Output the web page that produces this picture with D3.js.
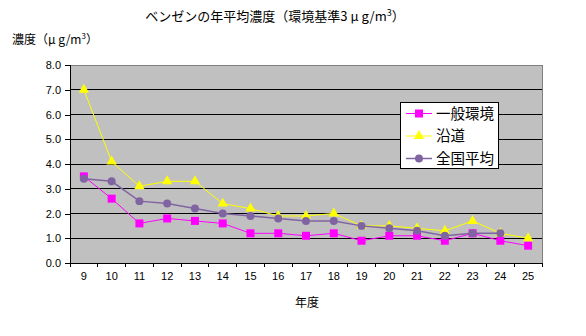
<!DOCTYPE html>
<html><head><meta charset="utf-8">
<script src="https://cdn.jsdelivr.net/npm/d3@7"></script>
<style>body{margin:0;background:#fff}svg{display:block}</style>
</head><body>
<script>
const years = ["9","10","11","12","13","14","15","16","17","18","19","20","21","22","23","24","25"];
const general = [3.5,2.6,1.6,1.8,1.7,1.6,1.2,1.2,1.1,1.2,0.9,1.1,1.1,0.9,1.2,0.9,0.7];
const roadside = [7.0,4.1,3.1,3.3,3.3,2.4,2.2,1.9,1.9,2.0,1.5,1.5,1.4,1.3,1.7,1.2,1.0];
const national = [3.4,3.3,2.5,2.4,2.2,2.0,1.9,1.8,1.7,1.7,1.5,1.4,1.3,1.1,1.2,1.2,null];
const yTicks = [0,1,2,3,4,5,6,7,8];
const seriesNames = ["一般環境","沿道","全国平均"];

const W=586,H=336;
const m={l:70,r:44,t:65,b:73};
const svg=d3.select("body").append("svg").attr("width",W).attr("height",H);
const x=d3.scaleBand().domain(years).range([m.l,W-m.r]);
const y=d3.scaleLinear().domain([0,8]).range([H-m.b,m.t]);
const fontJ='"Noto Sans CJK JP", sans-serif';
const fontN='"Liberation Sans", Arial, sans-serif';

svg.append("rect").attr("x",m.l).attr("y",m.t).attr("width",W-m.r-m.l).attr("height",H-m.b-m.t).attr("fill","#C0C0C0");
svg.append("g").selectAll("line").data(yTicks.filter(d=>d>0&&d<8)).join("line")
 .attr("x1",m.l).attr("x2",W-m.r).attr("y1",d=>y(d)).attr("y2",d=>y(d)).attr("stroke","#000").attr("stroke-width",1)
 .attr("shape-rendering","crispEdges");
svg.append("rect").attr("x",m.l).attr("y",m.t).attr("width",W-m.r-m.l).attr("height",H-m.b-m.t)
 .attr("fill","none").attr("stroke","#808080").attr("shape-rendering","crispEdges");

const ya=svg.append("g").attr("transform",`translate(${m.l},0)`)
 .call(d3.axisLeft(y).tickValues(yTicks).tickFormat(d3.format(".1f")).tickSize(5).tickPadding(4));
ya.select(".domain").attr("stroke","#000").attr("shape-rendering","crispEdges");
ya.selectAll("line").attr("stroke","#000").attr("shape-rendering","crispEdges");
ya.selectAll("text").attr("font-family",fontN).attr("font-size",11).attr("fill","#000");

const xa=svg.append("g").attr("transform",`translate(0,${H-m.b})`)
 .call(d3.axisBottom(x).tickSize(0).tickPadding(9));
xa.select(".domain").attr("stroke","#000").attr("shape-rendering","crispEdges");
xa.selectAll("text").attr("font-family",fontN).attr("font-size",11).attr("fill","#000");
const bounds=years.map(d=>x(d)).concat([x(years[years.length-1])+x.bandwidth()]);
svg.append("g").selectAll("line").data(bounds).join("line")
 .attr("x1",d=>d).attr("x2",d=>d).attr("y1",H-m.b).attr("y2",H-m.b+4).attr("stroke","#000").attr("shape-rendering","crispEdges");

const cx=d=>x(d)+x.bandwidth()/2;
const series=[
 {name:seriesNames[0],vals:general,color:"#FF00FF",shape:"square"},
 {name:seriesNames[1],vals:roadside,color:"#FFFF00",shape:"triangle"},
 {name:seriesNames[2],vals:national,color:"#8064A2",shape:"circle"}
];
const sym={square:d3.symbol().type(d3.symbolSquare).size(64),
 triangle:d3.symbol().type(d3.symbolTriangle).size(46),
 circle:d3.symbol().type(d3.symbolCircle).size(50)};

series.forEach(s=>{
 const pts=years.map((yr,i)=>({yr,v:s.vals[i]}));
 const line=d3.line().defined(d=>d.v!=null).x(d=>cx(d.yr)).y(d=>y(d.v));
 svg.append("path").datum(pts).attr("d",line).attr("fill","none").attr("stroke",s.color).attr("stroke-width",s.shape==="circle"?1.5:1);
 svg.append("g").selectAll("path").data(pts.filter(d=>d.v!=null)).join("path")
  .attr("d",sym[s.shape]).attr("transform",d=>`translate(${cx(d.yr)},${y(d.v)})`).attr("fill",s.color);
});

const lg=svg.append("g");
lg.append("rect").attr("x",400.5).attr("y",102.5).attr("width",98).attr("height",66).attr("fill","#fff").attr("stroke","#000");
series.forEach((s,i)=>{
 const ly=113.5+i*22.5;
 lg.append("line").attr("x1",406).attr("x2",432).attr("y1",ly).attr("y2",ly).attr("stroke",s.color).attr("stroke-width",s.shape==="circle"?1.5:1);
 lg.append("path").attr("d",sym[s.shape]).attr("transform",`translate(419,${ly})`).attr("fill",s.color);
 lg.append("text").attr("x",436).attr("y",ly).attr("dy","0.36em").attr("font-family",fontJ).attr("font-size",14.5).text(s.name);
});

svg.append("text").attr("x",275).attr("y",16).attr("dy","0.36em").attr("text-anchor","middle").attr("font-family",fontJ).attr("font-size",13)
 .html('ベンゼンの年平均濃度（環境基準3 μ g/m<tspan dy="-5" font-size="9">3</tspan><tspan dy="5">）</tspan>');
svg.append("text").attr("x",12).attr("y",40).attr("dy","0.36em").attr("font-family",fontJ).attr("font-size",12)
 .html('濃度（μ g/m<tspan dy="-5" font-size="8">3</tspan><tspan dy="5">）</tspan>');
svg.append("text").attr("x",307).attr("y",303).attr("dy","0.36em").attr("text-anchor","middle").attr("font-family",fontJ).attr("font-size",12).text("年度");
</script>
</body></html>
